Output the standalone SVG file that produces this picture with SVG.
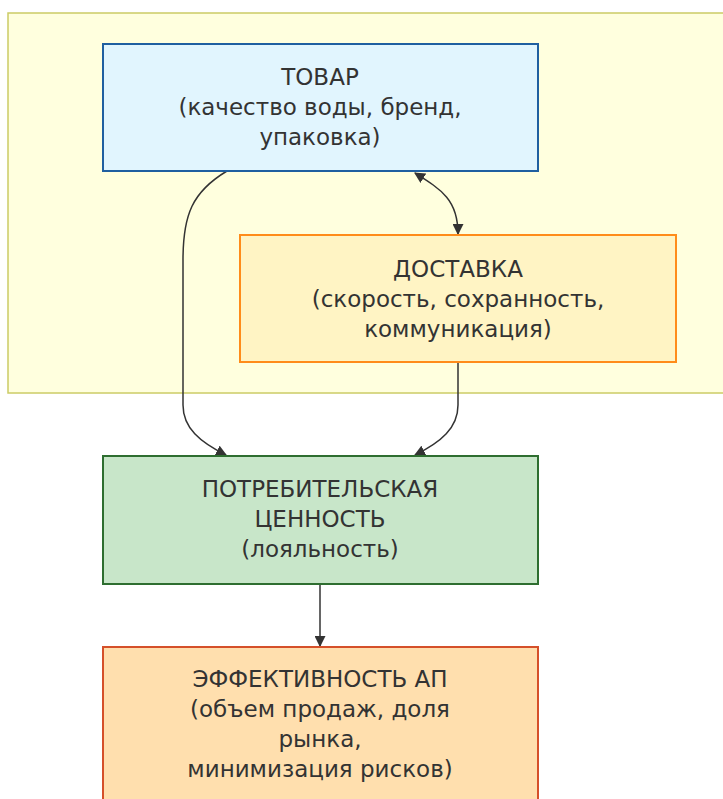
<svg xmlns="http://www.w3.org/2000/svg" width="723" height="799" viewBox="0 0 723 799">
<defs>
<style>
.lbl{font-family:"DejaVu Sans","Liberation Sans",sans-serif;font-size:23px;fill:#333;text-anchor:middle}
.edge{fill:none;stroke:#333;stroke-width:1.5}
</style>
<marker id="ah" viewBox="0 0 10 10" refX="9" refY="5" markerWidth="11" markerHeight="11" orient="auto-start-reverse" markerUnits="userSpaceOnUse">
<path d="M0,0 L10,5 L0,10 z" fill="#333"/>
</marker>
</defs>
<rect width="723" height="799" fill="#fff"/>
<g id="cluster">
<rect x="8" y="13" width="730" height="380" fill="#ffffde" stroke="#cccc66" stroke-width="1.5"/>
</g>
<g id="edges">
<path class="edge" d="M227,171 C192,192 183,215 183,260 L183,405 C183,428 200,442 226,455" marker-end="url(#ah)"/>
<path class="edge" d="M415,173 C442,190 458,200 458,234" marker-start="url(#ah)" marker-end="url(#ah)"/>
<path class="edge" d="M458,362 L458,405 C458,428 441,442 415,455" marker-end="url(#ah)"/>
<path class="edge" d="M320,584 L320,646" marker-end="url(#ah)"/>
</g>
<g id="tovar">
<rect x="103" y="44" width="435" height="127" fill="#e1f5fe" stroke="#1f5fa0" stroke-width="2"/>
<text class="lbl" x="320" y="85">ТОВАР</text>
<text class="lbl" x="320" y="115">(качество воды, бренд,</text>
<text class="lbl" x="320" y="145">упаковка)</text>
</g>
<g id="dostavka">
<rect x="240" y="235" width="436" height="127" fill="#fff4c4" stroke="#ff8c1a" stroke-width="2"/>
<text class="lbl" x="458" y="277">ДОСТАВКА</text>
<text class="lbl" x="458" y="307">(скорость, сохранность,</text>
<text class="lbl" x="458" y="337">коммуникация)</text>
</g>
<g id="potreb">
<rect x="103" y="456" width="435" height="128" fill="#c8e6c9" stroke="#2e6e30" stroke-width="2"/>
<text class="lbl" x="320" y="497">ПОТРЕБИТЕЛЬСКАЯ</text>
<text class="lbl" x="320" y="527">ЦЕННОСТЬ</text>
<text class="lbl" x="320" y="557">(лояльность)</text>
</g>
<g id="effekt">
<rect x="103" y="647" width="435" height="160" fill="#ffdfae" stroke="#d5502a" stroke-width="2"/>
<text class="lbl" x="320" y="687">ЭФФЕКТИВНОСТЬ АП</text>
<text class="lbl" x="320" y="717">(объем продаж, доля</text>
<text class="lbl" x="320" y="747">рынка,</text>
<text class="lbl" x="320" y="777">минимизация рисков)</text>
</g>
</svg>
